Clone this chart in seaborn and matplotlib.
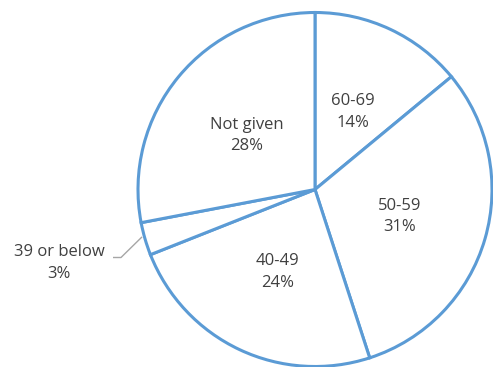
import numpy as np
import matplotlib
matplotlib.use("Agg")
import matplotlib.pyplot as plt
import seaborn as sns

# Age groups of respondents, clockwise from 12 o'clock
categories = ["60-69", "50-59", "40-49", "39 or below", "Not given"]
shares = [14, 31, 24, 3, 28]

sns.set_theme(style="white")
plt.rcParams["font.family"] = ["Open Sans", "DejaVu Sans"]

W, H = 493, 367
fig = plt.figure(figsize=(W / 100, H / 100), dpi=100)
ax = fig.add_axes([0, 0, 1, 1])

edge = "#5B9BD5"
text_color = "#404040"
cx, cy, R = 315, H - 189.5, 177

wedges, _ = ax.pie(
    shares,
    startangle=90,
    counterclock=False,
    center=(cx, cy),
    radius=R,
    colors=["white"] * len(shares),
    wedgeprops=dict(edgecolor=edge, linewidth=2.2),
    frame=True,
)
ax.set_xlim(0, W)
ax.set_ylim(0, H)
ax.set_axis_off()

text_kw = dict(ha="center", va="center", fontsize=12, color=text_color,
               linespacing=1.45)

for w, cat, s in zip(wedges, categories, shares):
    mid = np.deg2rad((w.theta1 + w.theta2) / 2)
    label = f"{cat}\n{s}%"
    if cat == "39 or below":
        # small slice: label outside with a leader line
        px, py = cx + R * np.cos(mid), cy + R * np.sin(mid)
        ax.plot([113, 121, px - 3], [H - 257.5, H - 257.5, py + 2],
                color="#A6A6A6", lw=1.0, solid_capstyle="butt")
        ax.text(59, H - 263, label, **text_kw)
    else:
        tx, ty = cx + 0.5 * R * np.cos(mid), cy + 0.5 * R * np.sin(mid) - 2.5
        ax.text(tx, ty, label, **text_kw)

fig.savefig("out.png", dpi=100, facecolor="white")
